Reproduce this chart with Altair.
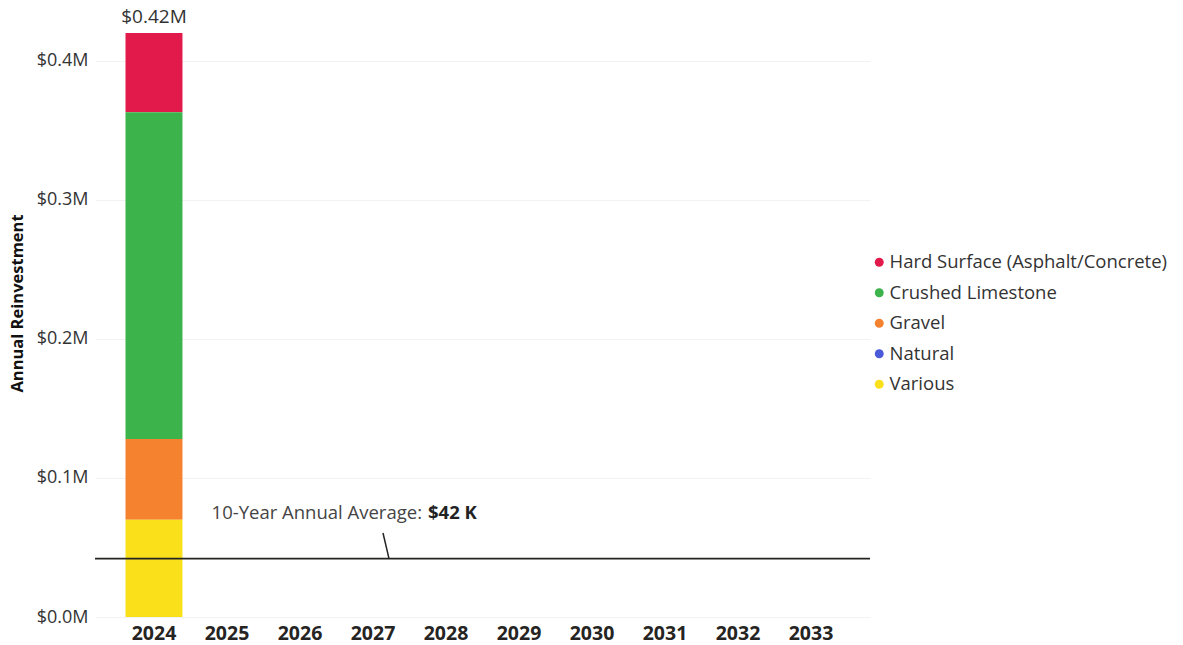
import altair as alt
import pandas as pd

# Planning horizon
years = ["2024", "2025", "2026", "2027", "2028", "2029", "2030", "2031", "2032", "2033"]

# Surface categories, legend order (top of stack first)
categories = [
    "Hard Surface (Asphalt/Concrete)",
    "Crushed Limestone",
    "Gravel",
    "Natural",
    "Various",
]
colors = ["#E2194B", "#3CB44B", "#F5822F", "#4A5AD8", "#F9E01B"]
stack_rank = [4, 3, 2, 1, 0]  # 0 sits on the baseline

# Annual reinvestment by category, $M
hard_surface = [0.057, 0, 0, 0, 0, 0, 0, 0, 0, 0]
crushed_limestone = [0.235, 0, 0, 0, 0, 0, 0, 0, 0, 0]
gravel = [0.058, 0, 0, 0, 0, 0, 0, 0, 0, 0]
natural = [0.0, 0, 0, 0, 0, 0, 0, 0, 0, 0]
various = [0.070, 0, 0, 0, 0, 0, 0, 0, 0, 0]

series = [hard_surface, crushed_limestone, gravel, natural, various]
rows = []
for cat, rank, vals in zip(categories, stack_rank, series):
    for yr, v in zip(years, vals):
        rows.append({"year": yr, "category": cat, "rank": rank, "value": v})
df = pd.DataFrame(rows)

FONT = "Open Sans"
W, H = 775, 584

x_enc = alt.X(
    "year:N",
    scale=alt.Scale(domain=years, paddingInner=0.22, paddingOuter=0.418),
    axis=alt.Axis(
        title=None, labelAngle=0, labelFontWeight="bold", labelFontSize=19.5,
        labelColor="#252423", ticks=False, domain=False, labelPadding=7,
    ),
)
y_scale = alt.Scale(domain=[0, 0.42], nice=False)

bars = alt.Chart(df).mark_bar().encode(
    x=x_enc,
    y=alt.Y(
        "value:Q", stack="zero", scale=y_scale,
        axis=alt.Axis(
            title="Annual Reinvestment", titleFontSize=16.5, titleFontWeight="bold",
            titleColor="#111111", titleX=-70, titleY=270,
            values=[0, 0.1, 0.2, 0.3, 0.4],
            labelExpr="'$' + format(datum.value, '.1f') + 'M'",
            labelFontSize=18, labelColor="#333333", labelPadding=7,
            ticks=False, domain=False, gridColor="#f2f2f2", gridWidth=1,
        ),
    ),
    color=alt.Color(
        "category:N",
        scale=alt.Scale(domain=categories, range=colors),
        legend=alt.Legend(
            title=None, orient="none", legendX=775, legendY=220,
            symbolType="circle", symbolSize=80, labelFontSize=18.5,
            labelColor="#333333", rowPadding=11.5, labelOffset=1, labelLimit=400,
        ),
    ),
    order=alt.Order("rank:Q", sort="ascending"),
)

totals = (
    alt.Chart(df)
    .transform_aggregate(total="sum(value)", groupby=["year"])
    .transform_filter("datum.total > 0")
    .transform_calculate(label="'$' + format(datum.total, '.2f') + 'M'")
    .mark_text(fontSize=19, dy=-16, color="#333333", font=FONT)
    .encode(x=alt.X("year:N"), y=alt.Y("total:Q", scale=y_scale), text="label:N")
)

avg_base = (
    alt.Chart(df)
    .transform_aggregate(total="sum(value)", groupby=["year"])
    .transform_aggregate(avg="mean(total)")
    .transform_calculate(avg_label="'$' + format(datum.avg * 1000, '.0f') + ' K'")
)

avg_line = avg_base.mark_rule(color="#252423", strokeWidth=1.6).encode(
    y=alt.Y("avg:Q", scale=y_scale)
)

leader = avg_base.mark_rule(color="#252423", strokeWidth=1.5).encode(
    x=alt.value(294), x2=alt.value(288),
    y=alt.Y("avg:Q", scale=y_scale), y2=alt.value(500),
)

avg_text = avg_base.mark_text(
    align="right", baseline="middle", fontSize=18.5, dy=-46, color="#444444", font=FONT
).encode(
    x=alt.value(327), y=alt.Y("avg:Q", scale=y_scale),
    text=alt.value("10-Year Annual Average:"),
)

avg_value = avg_base.mark_text(
    align="left", baseline="middle", fontSize=18.5, dy=-46, fontWeight="bold",
    color="#222222", font=FONT,
).encode(
    x=alt.value(333), y=alt.Y("avg:Q", scale=y_scale),
    text=alt.Text("avg_label:N"),
)

chart = (
    alt.layer(bars, avg_line, leader, totals, avg_text, avg_value)
    .properties(
        width=W, height=H, autosize="none",
        padding={"left": 95, "top": 33, "right": 313, "bottom": 28},
    )
    .configure(font=FONT)
    .configure_view(stroke=None)
    .configure_text(font=FONT)
)

chart.save("out.html", embed_options={"renderer": "svg", "actions": False})
